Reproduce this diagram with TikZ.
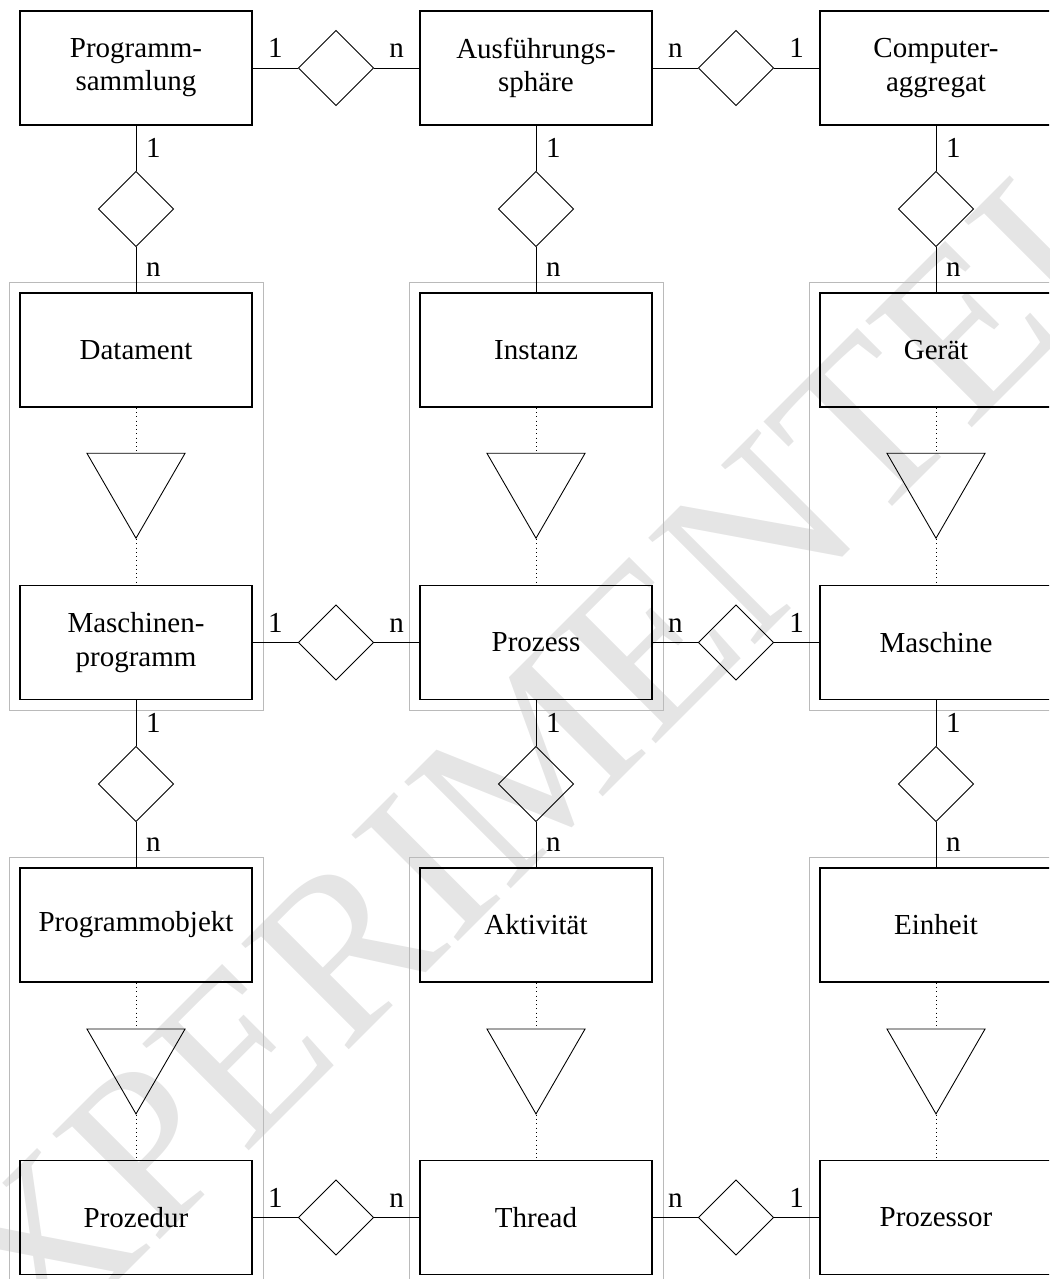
\documentclass[tikz,border=0pt]{standalone}
\usepackage{fontspec}
\setmainfont{Liberation Serif}
\usetikzlibrary{shapes.geometric,fit}
\begin{document}
\begin{tikzpicture}[x=0.4pt,y=-0.4pt,
  entity/.style={draw, line width=0.6pt, minimum width=92.8pt, minimum height=45.6pt,
    inner sep=0pt, align=center, font=\fontsize{11.6}{13.3}\selectfont},
  relation/.style={draw, diamond, aspect=1, line width=0.35pt, minimum width=30.2pt,
    minimum height=30.2pt, inner sep=0pt},
  isa/.style={draw, regular polygon, regular polygon sides=3, shape border rotate=180,
    minimum size=45.3pt, inner sep=0pt, line width=0.35pt},
  link/.style={line width=0.35pt},
  card/.style={font=\fontsize{11.6}{13.3}\selectfont, inner sep=3.9pt},
  spec/.style={line width=0.35pt, dash pattern=on 0.4pt off 1.3pt},
  group/.style={draw=black!27, line width=0.35pt, inner sep=4.1pt},
]
\useasboundingbox (0,0) rectangle (1049,1279);
\clip (0,0) rectangle (1049,1279);

% watermark
\node[rotate=45, text=black!10, font=\fontsize{92}{92}\selectfont, inner sep=0pt]
  (wm) at (548,745) {EXPERIMENTELL};

% entities
\node[entity] (prog)      at (136,68)     {Programm-\\sammlung};
\node[entity] (ausf)      at (536,68)     {Ausführungs-\\sphäre};
\node[entity] (comp)      at (936,68)     {Computer-\\aggregat};
\node[entity] (datament)  at (136,350)    {Datament};
\node[entity] (instanz)   at (536,350)    {Instanz};
\node[entity] (geraet)    at (936,350)    {Gerät};
\node[entity] (maprog)    at (136,642.5)  {Maschinen-\\programm};
\node[entity] (prozess)   at (536,642.5)  {Prozess};
\node[entity] (maschine)  at (936,642.5)  {Maschine};
\node[entity] (pobj)      at (136,925)    {Programmobjekt};
\node[entity] (aktiv)     at (536,925)    {Aktivität};
\node[entity] (einheit)   at (936,925)    {Einheit};
\node[entity] (prozedur)  at (136,1217.5) {Prozedur};
\node[entity] (thread)    at (536,1217.5) {Thread};
\node[entity] (prozessor) at (936,1217.5) {Prozessor};

% grouping frames
\foreach \a/\b/\n in {datament/maprog/ga, instanz/prozess/gb, geraet/maschine/gc,
                      pobj/prozedur/gd, aktiv/thread/ge, einheit/prozessor/gf}
  \node[group, fit=(\a)(\b)] (\n) {};

% relationships
\node[relation] (h11) at (336,68) {};
\node[relation] (h12) at (736,68) {};
\node[relation] (h31) at (336,642.5) {};
\node[relation] (h32) at (736,642.5) {};
\node[relation] (h51) at (336,1217.5) {};
\node[relation] (h52) at (736,1217.5) {};
\node[relation] (v1a) at (136,209) {};
\node[relation] (v1b) at (536,209) {};
\node[relation] (v1c) at (936,209) {};
\node[relation] (v3a) at (136,784) {};
\node[relation] (v3b) at (536,784) {};
\node[relation] (v3c) at (936,784) {};

% specialisation triangles
\node[isa] (t2a) at (136,481.6) {};
\node[isa] (t2b) at (536,481.6) {};
\node[isa] (t2c) at (936,481.6) {};
\node[isa] (t4a) at (136,1057.3) {};
\node[isa] (t4b) at (536,1057.3) {};
\node[isa] (t4c) at (936,1057.3) {};

% horizontal relationships
\foreach \l/\d/\r in {prog/h11/ausf, maprog/h31/prozess, prozedur/h51/thread} {
  \draw[link] (\l) -- node[card, above] {1} (\d);
  \draw[link] (\d) -- node[card, above] {n} (\r);
}
\foreach \l/\d/\r in {ausf/h12/comp, prozess/h32/maschine, thread/h52/prozessor} {
  \draw[link] (\l) -- node[card, above] {n} (\d);
  \draw[link] (\d) -- node[card, above] {1} (\r);
}

% vertical relationships
\foreach \t/\d/\b in {prog/v1a/datament, ausf/v1b/instanz, comp/v1c/geraet,
                      maprog/v3a/pobj, prozess/v3b/aktiv, maschine/v3c/einheit} {
  \draw[link] (\t) -- node[card, right] {1} (\d);
  \draw[link] (\d) -- node[card, right] {n} (\b);
}

% specialisations
\foreach \t/\s/\b in {datament/t2a/maprog, instanz/t2b/prozess, geraet/t2c/maschine,
                      pobj/t4a/prozedur, aktiv/t4b/thread, einheit/t4c/prozessor} {
  \draw[spec] (\t) -- (\s);
  \draw[spec] (\s) -- (\b);
}
\end{tikzpicture}
\end{document}
